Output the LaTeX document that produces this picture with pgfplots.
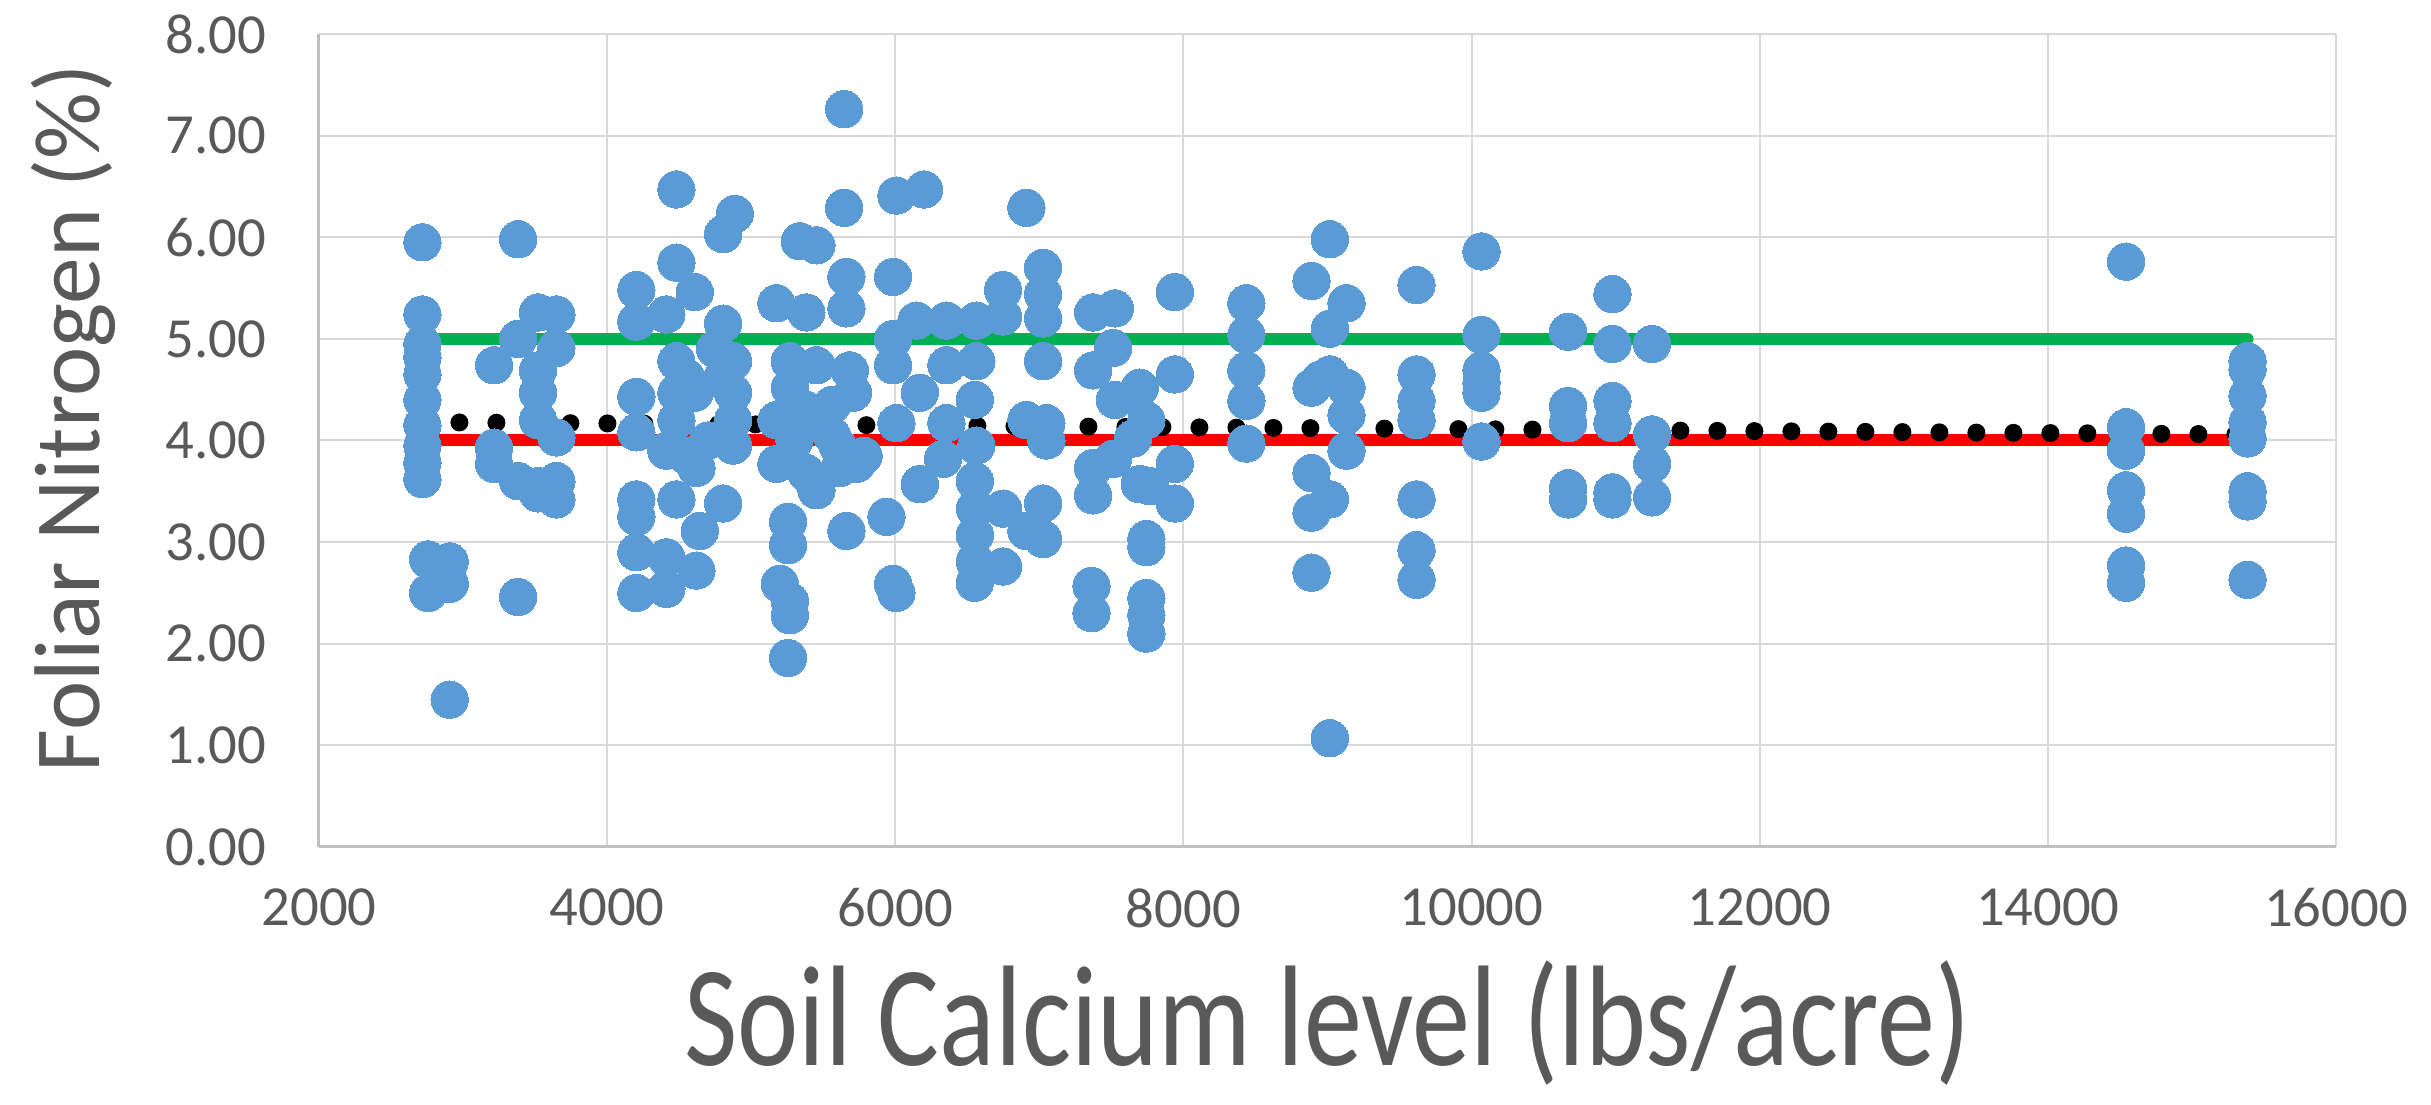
\documentclass[border=0pt]{standalone}
\usepackage{fontspec}
\setmainfont{Carlito}
\usepackage{graphicx}
\usepackage{pgfplots}
\pgfplotsset{compat=1.18}
\definecolor{ptblue}{HTML}{5B9BD5}
\definecolor{lgreen}{HTML}{00B050}
\definecolor{lred}{HTML}{FF0000}
\definecolor{gridgray}{HTML}{D9D9D9}
\definecolor{axisgray}{HTML}{BFBFBF}
\definecolor{textgray}{HTML}{595959}
\pgfplotstableread{
x y
2718 5.95
2718 5.24
2718 4.95
2718 4.82
2718 4.65
2718 4.40
2718 4.15
2718 3.95
2718 3.78
2718 3.62
2757 2.83
2907 2.81
2757 2.50
2907 2.59
2907 1.45
3215 4.74
3215 3.93
3215 3.77
3382 5.98
3382 2.46
3520 5.26
3648 5.24
3382 5.00
3648 4.91
3520 4.69
3520 4.47
3520 4.20
3648 4.03
3382 3.60
3520 3.55
3648 3.60
3648 3.42
3520 3.48
4481 6.47
4886 6.23
4805 6.03
4481 5.75
4203 5.48
4608 5.46
4203 5.17
4411 5.24
4805 5.15
4481 4.78
4874 4.78
4481 4.47
4608 4.47
4874 4.47
4550 4.62
4800 4.62
4750 4.90
4481 4.20
4874 4.20
4411 3.90
4874 3.95
4620 3.73
4700 4.00
4550 3.85
4203 4.43
4203 4.08
4203 3.42
4203 3.25
4481 3.42
4643 3.11
4805 3.38
4203 2.90
4203 2.50
4411 2.85
4411 2.54
4620 2.72
5645 7.26
5645 6.29
6008 6.41
6200 6.47
5337 5.96
5453 5.92
5661 5.61
5985 5.61
5175 5.35
5383 5.26
5661 5.30
5268 4.78
5453 4.74
5268 4.52
5684 4.69
5707 4.47
5985 5.00
5985 4.74
6170 4.47
5175 4.20
5383 4.30
6008 4.17
5175 3.77
5383 3.68
5615 3.73
5730 3.77
5453 3.51
5256 3.20
5256 2.97
5661 3.11
5939 3.25
5198 2.59
5268 2.42
5268 2.28
5256 1.86
5985 2.59
6008 2.50
6170 3.57
5560 4.05
5600 3.95
5300 4.00
5500 4.15
5560 4.35
5780 3.85
6910 6.29
6748 5.48
7026 5.70
7026 5.44
6147 5.18
6355 5.18
6563 5.18
6748 5.22
7026 5.20
6355 4.74
6563 4.78
7026 4.78
6552 4.40
6355 4.17
6910 4.20
7049 4.17
6563 3.95
6332 3.82
7049 4.00
6552 3.60
6552 3.33
6552 3.07
6552 2.81
6552 2.60
6748 3.33
6910 3.11
7026 3.38
7026 3.03
6748 2.76
7940 5.46
7373 5.26
7524 5.30
7512 4.91
7373 4.69
7940 4.65
7524 4.40
7697 4.52
7743 4.20
7650 4.02
7373 3.73
7512 3.82
7373 3.46
7697 3.57
7767 3.55
7940 3.77
7940 3.38
7743 3.03
7743 2.95
7362 2.57
7362 2.30
7743 2.45
7743 2.28
7743 2.10
8437 5.35
8437 5.04
8437 4.69
8437 4.39
8437 3.97
9016 5.98
8889 5.57
9132 5.35
9016 5.10
8889 4.52
9016 4.65
8950 4.60
9132 4.52
9132 4.25
9132 3.90
8889 3.68
9016 3.42
8889 3.29
8889 2.70
9016 1.07
9618 5.53
9618 4.65
9618 4.39
9618 4.20
9618 3.42
9618 2.92
9618 2.63
10069 5.86
10069 5.04
10069 4.69
10069 4.57
10069 4.47
10069 3.99
10670 5.07
10670 4.34
10670 4.17
10670 3.53
10670 3.42
10978 5.44
10978 4.95
10978 4.39
10978 4.17
10978 3.49
10978 3.42
11253 4.95
11253 4.06
11253 3.77
11253 3.44
14543 5.76
14543 4.13
14543 3.90
14543 3.51
14543 3.28
14543 2.77
14543 2.60
15386 4.78
15386 4.70
15386 4.44
15386 4.18
15386 4.02
15386 3.50
15386 3.40
15386 2.63
}\pts
\begin{document}
\begin{tikzpicture}
\path[use as bounding box] (-95.7pt,-77.4pt) rectangle (633.6pt,254.1pt);
\begin{axis}[
  at={(0,0)}, anchor=south west,
  scale only axis, width=605.1pt, height=243.9pt,
  xmin=2000, xmax=16000, ymin=0, ymax=8,
  xtick={2000,4000,...,16000}, ytick={0,1,...,8},
  scaled x ticks=false, scaled y ticks=false,
  grid=major, grid style={draw=gridgray, line width=0.6pt},
  axis x line*=bottom, axis y line*=left,
  axis line style={draw=axisgray, line width=0.9pt, -},
  major tick length=0pt,
  /pgf/number format/assume math mode=true,
  xticklabel style={font=\fontsize{17}{17}\selectfont, text=textgray, anchor=north, inner sep=0pt, yshift=-12.3pt, /pgf/number format/1000 sep={}},
  yticklabel style={font=\fontsize{17}{17}\selectfont, text=textgray, anchor=east, inner sep=0pt, xshift=-15.6pt, /pgf/number format/.cd, fixed, fixed zerofill, precision=2},
  xlabel={\scalebox{0.81}[1]{Soil Calcium level (lbs/acre)}},
  xlabel style={at={(axis description cs:0.5,0)}, anchor=center, yshift=-52.8pt, font=\fontsize{43}{43}\selectfont, text=textgray, inner sep=0pt},
  ylabel={Foliar Nitrogen (\%)},
  ylabel style={at={(axis description cs:0,0.5)}, anchor=center, yshift=73.8pt, xshift=6.6pt, font=\fontsize{28}{28}\selectfont, text=textgray, inner sep=0pt},
]
\addplot[only marks, mark=*, mark size=5.6pt, color=ptblue, mark options={draw=ptblue, fill=ptblue, line width=0pt}] table {\pts};
\addplot[lgreen, line width=3.6pt, line cap=round] coordinates {(2718,5.0) (15386,5.0)};
\addplot[lred, line width=3.6pt, line cap=round] coordinates {(2718,4.0) (15386,4.0)};
\addplot[black, line width=5.4pt, line cap=round, dash pattern=on 0pt off 11.1pt] coordinates {(2718,4.18) (15386,4.06)};
\end{axis}
\end{tikzpicture}
\end{document}
